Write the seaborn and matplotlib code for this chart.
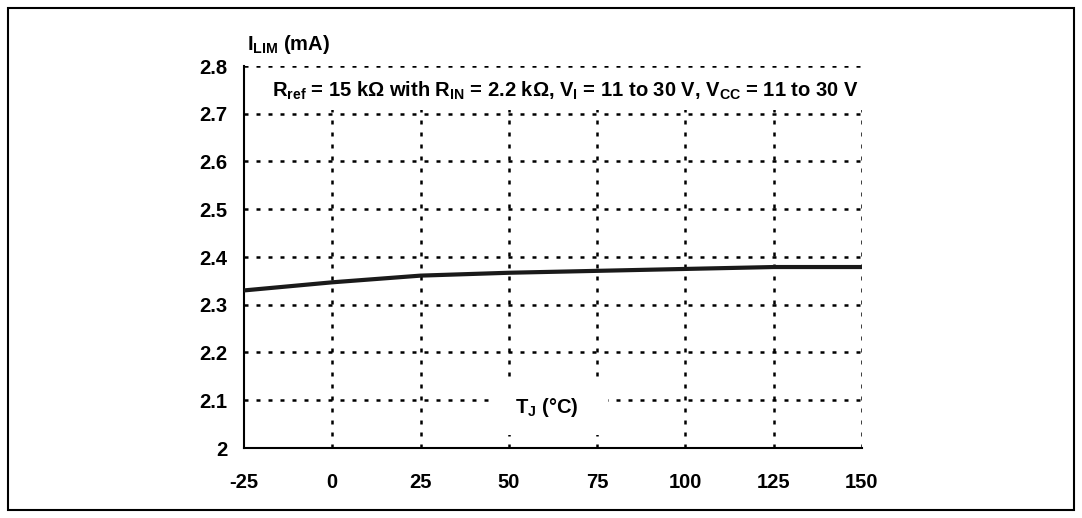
import matplotlib
matplotlib.use("Agg")
import matplotlib.pyplot as plt
import seaborn as sns
import pandas as pd
from matplotlib.patches import Rectangle

# Data
temps = [-25, 0, 25, 50, 75, 100, 125, 150]
ilim = [2.330, 2.347, 2.361, 2.367, 2.371, 2.375, 2.379, 2.379]
x_ticks = [-25, 0, 25, 50, 75, 100, 125, 150]
y_ticks = [2.0, 2.1, 2.2, 2.3, 2.4, 2.5, 2.6, 2.7, 2.8]
y_tick_labels = ["2", "2.1", "2.2", "2.3", "2.4", "2.5", "2.6", "2.7", "2.8"]

df = pd.DataFrame({"T": temps, "I": ilim})

sns.set_theme(style="white")
plt.rcParams["font.family"] = ["Liberation Sans Narrow", "Liberation Sans", "DejaVu Sans"]
plt.rcParams["font.weight"] = "bold"
plt.rcParams["text.color"] = "black"
plt.rcParams["xtick.color"] = "black"
plt.rcParams["ytick.color"] = "black"
plt.rcParams["axes.unicode_minus"] = False
plt.rcParams["mathtext.fontset"] = "custom"
plt.rcParams["mathtext.rm"] = "Liberation Sans:bold"
plt.rcParams["mathtext.it"] = "Liberation Sans:bold"
plt.rcParams["mathtext.bf"] = "Liberation Sans:bold"

fig = plt.figure(figsize=(10.82, 5.18), dpi=100)
ax = fig.add_axes([244 / 1082, 1 - 448 / 518, (862 - 244) / 1082, (448 - 66) / 518])

# outer frame of the figure
fig.patches.append(Rectangle((8 / 1082, 8 / 518), 1066 / 1082, 502 / 518,
                             transform=fig.transFigure, fill=False,
                             edgecolor="black", linewidth=1.5))

# dotted grid
for yv in y_ticks[1:]:
    ax.axhline(yv, color="black", linestyle=(0, (1.6, 3.2)), linewidth=1.8, zorder=1)
for xv in x_ticks[1:]:
    ax.axvline(xv, color="black", linestyle=(0, (1.6, 3.2)), linewidth=1.8, zorder=1)

sns.lineplot(data=df, x="T", y="I", ax=ax, color="#1a1a1a", linewidth=3, zorder=3)

ax.set_xlim(-25, 150)
ax.set_ylim(2.0, 2.8)
ax.set_xticks(x_ticks)
ax.set_yticks(y_ticks)
ax.set_yticklabels(y_tick_labels)
ax.tick_params(axis="both", labelsize=14.5, length=4, width=1.2,
               direction="out", pad=8)
ax.tick_params(axis="x", pad=14)
for lab in ax.get_xticklabels() + ax.get_yticklabels():
    lab.set_fontweight("bold")
ax.set_xlabel("")
ax.set_ylabel("")

for s in ["top", "right"]:
    ax.spines[s].set_visible(False)
for s in ["left", "bottom"]:
    ax.spines[s].set_color("black")
    ax.spines[s].set_linewidth(1.5)

ax.text(0.005, 1.025, r"I$_{\mathregular{LIM}}$ (mA)", transform=ax.transAxes,
        fontsize=14.5, fontweight="bold", ha="left", va="bottom")

ax.text(0.995, 0.935,
        r"R$_{\mathregular{ref}}$ = 15 k$\Omega$ with R$_{\mathregular{IN}}$ = 2.2 k$\Omega$, "
        r"V$_{\mathregular{I}}$ = 11 to 30 V, V$_{\mathregular{CC}}$ = 11 to 30 V",
        transform=ax.transAxes, fontsize=14.5, fontweight="bold", ha="right", va="center",
        bbox=dict(facecolor="white", edgecolor="none", pad=6), zorder=4)

# white box behind the x-axis title, as in the reference
ax.add_patch(Rectangle((0.403, 0.034), 0.186, 0.141, transform=ax.transAxes,
                       facecolor="white", edgecolor="none", zorder=4))
ax.text(0.49, 0.105, r"T$_{\mathregular{J}}$ (°C)", transform=ax.transAxes,
        fontsize=14.5, fontweight="bold", ha="center", va="center", zorder=5)

fig.savefig("out.png", dpi=100)
